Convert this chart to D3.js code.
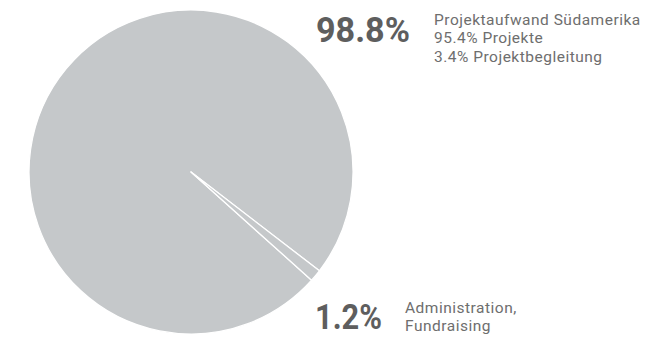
<!DOCTYPE html>
<html>
<head>
<meta charset="utf-8">
<script src="https://cdn.jsdelivr.net/npm/d3@7"></script>
<style>
  body { margin: 0; background: #fff; }
  svg { display: block; }
</style>
</head>
<body>
<svg id="chart" width="659" height="339"></svg>
<script>
// pie shares (percent)
const labels = ["Projektaufwand Südamerika", "Administration, Fundraising"];
const values = [98.8, 1.2];
const bigText = ["98.8%", "1.2%"];
const detailLines = [
  ["Projektaufwand Südamerika", "95.4% Projekte", "3.4% Projektbegleitung"],
  ["Administration,", "Fundraising"]
];

const svg = d3.select("#chart");
const cx = 191, cy = 172, r = 162;

// small slice sits at roughly 4 o'clock
const start = 131.9 * Math.PI / 180;
const pie = d3.pie().sort(null).startAngle(start).endAngle(start + 2 * Math.PI);
const arc = d3.arc().innerRadius(0).outerRadius(r);

svg.append("g")
  .attr("transform", `translate(${cx},${cy})`)
  .selectAll("path")
  .data(pie(values))
  .join("path")
    .attr("d", arc)
    .attr("fill", "#c5c8ca")
    .attr("stroke", "#fff")
    .attr("stroke-width", 1.3)
    .attr("stroke-linejoin", "round");

// labels
const blocks = [
  { x: 316, y: 41.5, dx: 118, lineY: 25, w: 94 },
  { x: 315, y: 328.5, dx: 90, lineY: 313, w: 67 }
];

blocks.forEach(function(b, i) {
  svg.append("text")
    .attr("x", b.x)
    .attr("y", b.y)
    .attr("font-family", "Roboto, sans-serif")
    .attr("font-weight", 700)
    .attr("font-size", 35)
    .attr("fill", "#5e5e5e")
    .attr("textLength", b.w)
    .attr("lengthAdjust", "spacingAndGlyphs")
    .text(bigText[i]);

  svg.append("g")
    .selectAll("text")
    .data(detailLines[i])
    .join("text")
      .attr("x", b.x + b.dx)
      .attr("y", (d, j) => b.lineY + j * 18.4)
      .attr("font-family", "Roboto, sans-serif")
      .attr("font-size", 15.5)
      .attr("letter-spacing", 0.5)
      .attr("fill", "#6e6e6e")
      .text(d => d);
});
</script>
</body>
</html>
